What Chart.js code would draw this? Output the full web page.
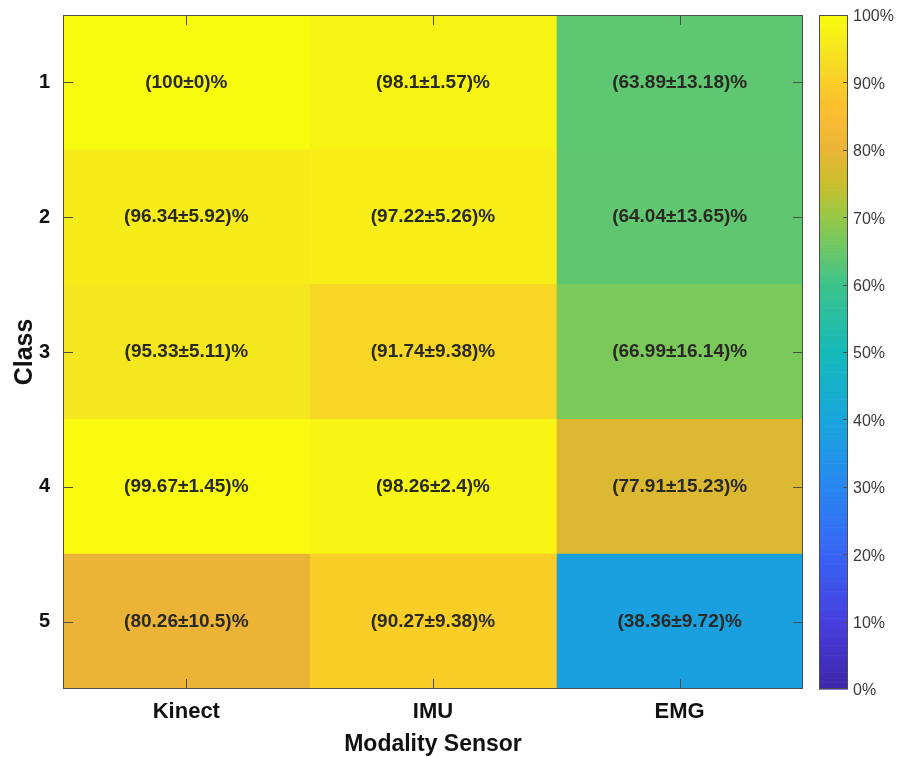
<!DOCTYPE html>
<html>
<head>
<meta charset="utf-8">
<script src="https://cdn.jsdelivr.net/npm/chart.js@4.4.1/dist/chart.umd.min.js"></script>
<style>
  html, body { margin: 0; padding: 0; background: #ffffff; }
  #wrap { width: 901px; height: 758px; }
</style>
</head>
<body>
<div id="wrap"><canvas id="heat" width="901" height="758"></canvas></div>
<script>
// Recognition accuracy per class and sensor modality: mean ± std (%)
const sensors = ['Kinect', 'IMU', 'EMG'];
const classes = [1, 2, 3, 4, 5];

const kinectMean = [100, 96.34, 95.33, 99.67, 80.26];
const kinectStd  = [0, 5.92, 5.11, 1.45, 10.5];
const imuMean    = [98.1, 97.22, 91.74, 98.26, 90.27];
const imuStd     = [1.57, 5.26, 9.38, 2.4, 9.38];
const emgMean    = [63.89, 64.04, 66.99, 77.91, 38.36];
const emgStd     = [13.18, 13.65, 16.14, 15.23, 9.72];

const colorbarTicks = [0, 10, 20, 30, 40, 50, 60, 70, 80, 90, 100];

const means = [kinectMean, imuMean, emgMean];
const stds  = [kinectStd, imuStd, emgStd];

// Parula-style colour map: stops at fractions of the 0–100 % range
const colorStops = [
  [0.00, [62, 38, 168]],
  [0.10, [70, 62, 222]],
  [0.20, [55, 100, 245]],
  [0.30, [40, 135, 240]],
  [0.40, [25, 165, 220]],
  [0.50, [20, 185, 185]],
  [0.60, [60, 195, 140]],
  [0.65, [105, 200, 105]],
  [0.70, [150, 200, 70]],
  [0.75, [200, 190, 45]],
  [0.80, [235, 180, 55]],
  [0.85, [250, 187, 50]],
  [0.90, [250, 205, 40]],
  [0.95, [245, 230, 30]],
  [1.00, [249, 251, 14]]
];

function parula(pct) {
  const t = Math.max(0, Math.min(1, pct / 100));
  for (let i = 1; i < colorStops.length; i++) {
    const [t1, c1] = colorStops[i];
    const [t0, c0] = colorStops[i - 1];
    if (t <= t1) {
      const f = (t - t0) / (t1 - t0);
      const c = c0.map((v, k) => Math.round(v + (c1[k] - v) * f));
      return `rgb(${c[0]},${c[1]},${c[2]})`;
    }
  }
  const c = colorStops[colorStops.length - 1][1];
  return `rgb(${c[0]},${c[1]},${c[2]})`;
}

const FONT = "'Liberation Sans', Arial, sans-serif";
const AXIS_COLOR = '#4d4d4d';

// One floating-bar dataset per sensor column; each bar spans one class row
const datasets = sensors.map((name, s) => ({
  label: name,
  data: classes.map(c => ({ x: name, y: [c - 0.5, c + 0.5] })),
  backgroundColor: means[s].map(m => parula(m)),
  borderWidth: 0,
  barPercentage: 1,
  categoryPercentage: 1,
  grouped: false
}));

// Value text in the middle of each cell
const cellLabels = {
  id: 'cellLabels',
  afterDatasetsDraw(chart) {
    const { ctx, scales: { x, y } } = chart;
    ctx.save();
    ctx.font = `bold 19px ${FONT}`;
    ctx.fillStyle = '#2a2a24';
    ctx.textAlign = 'center';
    ctx.textBaseline = 'middle';
    sensors.forEach((name, s) => {
      classes.forEach((c, r) => {
        const px = x.getPixelForValue(s);
        const py = y.getPixelForValue(c);
        ctx.fillText(`(${means[s][r]}±${stds[s][r]})%`, px, py);
      });
    });
    ctx.restore();
  }
};

// Axes box with inward tick marks, plus the colour bar on the right
const frameAndColorbar = {
  id: 'frameAndColorbar',
  afterDraw(chart) {
    const { ctx, chartArea: a, scales: { x, y } } = chart;
    const tl = 10;
    ctx.save();
    ctx.strokeStyle = AXIS_COLOR;
    ctx.lineWidth = 1;
    ctx.strokeRect(a.left + 0.5, a.top + 0.5, a.right - a.left - 1, a.bottom - a.top - 1);
    ctx.beginPath();
    classes.forEach(c => {
      const py = Math.round(y.getPixelForValue(c)) + 0.5;
      ctx.moveTo(a.left, py); ctx.lineTo(a.left + tl, py);
      ctx.moveTo(a.right, py); ctx.lineTo(a.right - tl, py);
    });
    sensors.forEach((n, s) => {
      const px = Math.round(x.getPixelForValue(s)) + 0.5;
      ctx.moveTo(px, a.bottom); ctx.lineTo(px, a.bottom - tl);
      ctx.moveTo(px, a.top); ctx.lineTo(px, a.top + tl);
    });
    ctx.stroke();

    // colour bar
    const cbL = 819, cbR = 848, cbT = a.top, cbB = a.bottom;
    const steps = 200;
    for (let i = 0; i < steps; i++) {
      const v0 = (i / steps) * 100;
      const yTop = cbB - (i + 1) / steps * (cbB - cbT);
      const yBot = cbB - i / steps * (cbB - cbT);
      ctx.fillStyle = parula(v0 + 50 / steps);
      ctx.fillRect(cbL, yTop, cbR - cbL, yBot - yTop + 0.6);
    }
    ctx.strokeStyle = AXIS_COLOR;
    ctx.strokeRect(cbL + 0.5, cbT + 0.5, cbR - cbL - 1, cbB - cbT - 1);
    ctx.beginPath();
    ctx.font = `16px ${FONT}`;
    ctx.fillStyle = '#3a3a3a';
    ctx.textAlign = 'left';
    ctx.textBaseline = 'middle';
    colorbarTicks.forEach(v => {
      const py = cbB - v / 100 * (cbB - cbT);
      const ly = Math.round(py) + 0.5;
      if (v > 0 && v < 100) {
        ctx.moveTo(cbR, ly); ctx.lineTo(cbR - 5, ly);
      }
      ctx.fillText(`${v}%`, cbR + 5, py + 2);
    });
    ctx.stroke();
    ctx.restore();
  }
};

new Chart(document.getElementById('heat'), {
  type: 'bar',
  data: { labels: sensors, datasets },
  options: {
    responsive: false,
    animation: false,
    layout: { padding: { top: 15, right: 98, left: 0, bottom: 0 } },
    plugins: {
      legend: { display: false },
      tooltip: { enabled: false }
    },
    scales: {
      x: {
        type: 'category',
        grid: { display: false, drawTicks: false },
        border: { display: false },
        ticks: {
          padding: 10,
          color: '#111',
          font: { family: FONT, size: 22, weight: 'bold' }
        },
        title: {
          display: true,
          text: 'Modality Sensor',
          color: '#111',
          padding: { top: 0, bottom: 0 },
          font: { family: FONT, size: 23, weight: 'bold' }
        },
        afterFit(s) {
          s.height = 69;
          s.paddingLeft = 0; s.paddingRight = 0;
        }
      },
      y: {
        type: 'linear',
        reverse: true,
        min: 0.5,
        max: 5.5,
        grid: { display: false, drawTicks: false },
        border: { display: false },
        afterBuildTicks(s) { s.ticks = classes.map(v => ({ value: v })); },
        ticks: {
          padding: 13,
          color: '#111',
          font: { family: FONT, size: 20, weight: 'bold' }
        },
        title: {
          display: true,
          text: 'Class',
          color: '#111',
          padding: { top: 10, bottom: 0 },
          font: { family: FONT, size: 25, weight: 'bold' }
        },
        afterFit(s) {
          s.width = 63;
          s.paddingTop = 0; s.paddingBottom = 0;
        }
      }
    }
  },
  plugins: [cellLabels, frameAndColorbar]
});
</script>
</body>
</html>
